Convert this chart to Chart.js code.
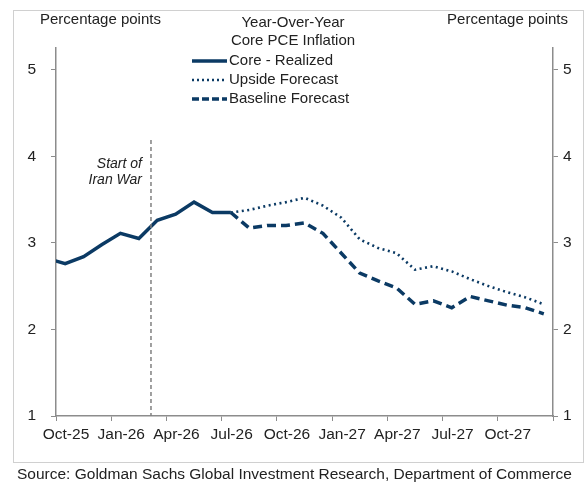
<!DOCTYPE html>
<html><head><meta charset="utf-8">
<script src="https://cdn.jsdelivr.net/npm/chart.js@4"></script>
<style>html,body{margin:0;padding:0;background:#fff}#w{width:584px;height:491px;position:relative}</style>
</head><body><div id="w"><canvas id="c"></canvas></div>
<script>
const xTickLabels = ['Oct-25','Jan-26','Apr-26','Jul-26','Oct-26','Jan-27','Apr-27','Jul-27','Oct-27'];
// month positions: Sep-25 = -0.5, Oct-25 = 0.5, ... Dec-27 = 26.5
const realizedX = [-0.5,0.5,1.5,2.5,3.5,4.5,5.5,6.5,7.5,8.5,9.5];
const realizedY = [2.82,2.76,2.84,2.98,3.11,3.05,3.26,3.33,3.47,3.35,3.35];
const forecastX = [9.5,10.5,11.5,12.5,13.5,14.5,15.5,16.5,17.5,18.5,19.5,20.5,21.5,22.5,23.5,24.5,25.5,26.5];
const upsideY = [3.35,3.38,3.43,3.47,3.52,3.43,3.29,3.04,2.94,2.88,2.69,2.73,2.67,2.58,2.50,2.43,2.37,2.29];
const baselineY = [3.35,3.17,3.20,3.20,3.23,3.11,2.88,2.65,2.56,2.48,2.29,2.33,2.25,2.38,2.33,2.28,2.25,2.18];
const warStart = 5.16;
const navy = '#0b3a64';
const axisC = '#8c8c8c';
const pts = (xs, ys) => xs.map((x, i) => ({x, y: ys[i]}));

const deco = {
  id: 'deco',
  afterDraw(ch) {
    const c = ch.ctx, xs = ch.scales.x;
    c.save();
    c.strokeStyle = '#d0d0d0'; c.lineWidth = 1;
    c.strokeRect(13.5, 10.5, 570, 452);
    c.beginPath(); c.moveTo(13, 462.5); c.lineTo(584, 462.5); c.stroke();
    const wx = xs.getPixelForValue(warStart);
    c.strokeStyle = '#808080'; c.lineWidth = 1.5; c.setLineDash([4, 3]);
    c.beginPath(); c.moveTo(wx, 140); c.lineTo(wx, ch.chartArea.bottom); c.stroke();
    c.setLineDash([]);
    c.fillStyle = '#222';
    c.font = 'italic 14px "Liberation Sans", Arial';
    c.textAlign = 'right'; c.textBaseline = 'middle';
    c.fillText('Start of', wx - 9, 164);
    c.fillText('Iran War', wx - 9, 180);
    c.font = '15px "Liberation Sans", Arial';
    c.textAlign = 'left';
    c.fillText('Percentage points', 40, 20);
    c.textAlign = 'right';
    c.fillText('Percentage points', 568, 20);
    c.textAlign = 'center';
    c.fillText('Year-Over-Year', 293, 23);
    c.fillText('Core PCE Inflation', 293, 41);
    const items = [['Core - Realized', []], ['Upside Forecast', [2, 3]], ['Baseline Forecast', [7, 3]]];
    c.textAlign = 'left';
    items.forEach((it, i) => {
      const y = 61 + i * 19;
      c.strokeStyle = navy; c.lineWidth = it[1].length && it[1][0] === 2 ? 2.5 : 3.5;
      c.setLineDash(it[1]);
      c.beginPath(); c.moveTo(192, y); c.lineTo(227, y); c.stroke();
      c.setLineDash([]);
      c.fillText(it[0], 229, y);
    });
    c.font = '15.5px "Liberation Sans", Arial';
    c.textAlign = 'left';
    c.fillText('Source: Goldman Sachs Global Investment Research, Department of Commerce', 17, 475);
    c.restore();
  }
};

const intTicks = s => { s.ticks = [1,2,3,4,5].map(v => ({value: v})); };
const yCommon = {
  type: 'linear', min: 1, max: 5.25,
  afterBuildTicks: intTicks,
  grid: {display: true, drawOnChartArea: false, drawTicks: true, tickLength: 5, color: axisC},
  border: {color: axisC, width: 1.5},
  ticks: {color: '#222', font: {size: 15.5, family: '"Liberation Sans", Arial'}, padding: 5}
};

new Chart(document.getElementById('c'), {
  type: 'line',
  data: {datasets: [
    {data: pts(realizedX, realizedY), borderColor: navy, borderWidth: 3.5, pointRadius: 0, tension: 0},
    {data: pts(forecastX, upsideY), borderColor: navy, borderWidth: 2.6, borderDash: [2, 3.5], pointRadius: 0, tension: 0},
    {data: pts(forecastX, baselineY), borderColor: navy, borderWidth: 3.5, borderDash: [9, 5], pointRadius: 0, tension: 0}
  ]},
  options: {
    responsive: true, maintainAspectRatio: false, animation: false,
    layout: {padding: {top: 48, left: 0, right: 0, bottom: 0}},
    plugins: {legend: {display: false}, tooltip: {enabled: false}},
    scales: {
      x: {
        type: 'linear', min: 0, max: 27,
        afterBuildTicks: s => { s.ticks = xTickLabels.map((_, i) => ({value: i * 3})).concat([{value: 27}]); },
        afterFit: s => { s.height = 75; },
        grid: {display: true, drawOnChartArea: false, tickLength: 5, color: axisC},
        border: {color: axisC, width: 1.5},
        ticks: {color: '#222', font: {size: 15.5, family: '"Liberation Sans", Arial'}, padding: 4, maxRotation: 0, autoSkip: false, labelOffset: 10,
          callback: v => xTickLabels[v / 3] || ''}
      },
      y: Object.assign({}, yCommon, {position: 'left', afterFit: s => { s.width = 56; },
        ticks: Object.assign({}, yCommon.ticks, {padding: 15})}),
      y2: Object.assign({}, yCommon, {position: 'right', afterFit: s => { s.width = 31; }})
    }
  },
  plugins: [deco]
});
</script></body></html>
